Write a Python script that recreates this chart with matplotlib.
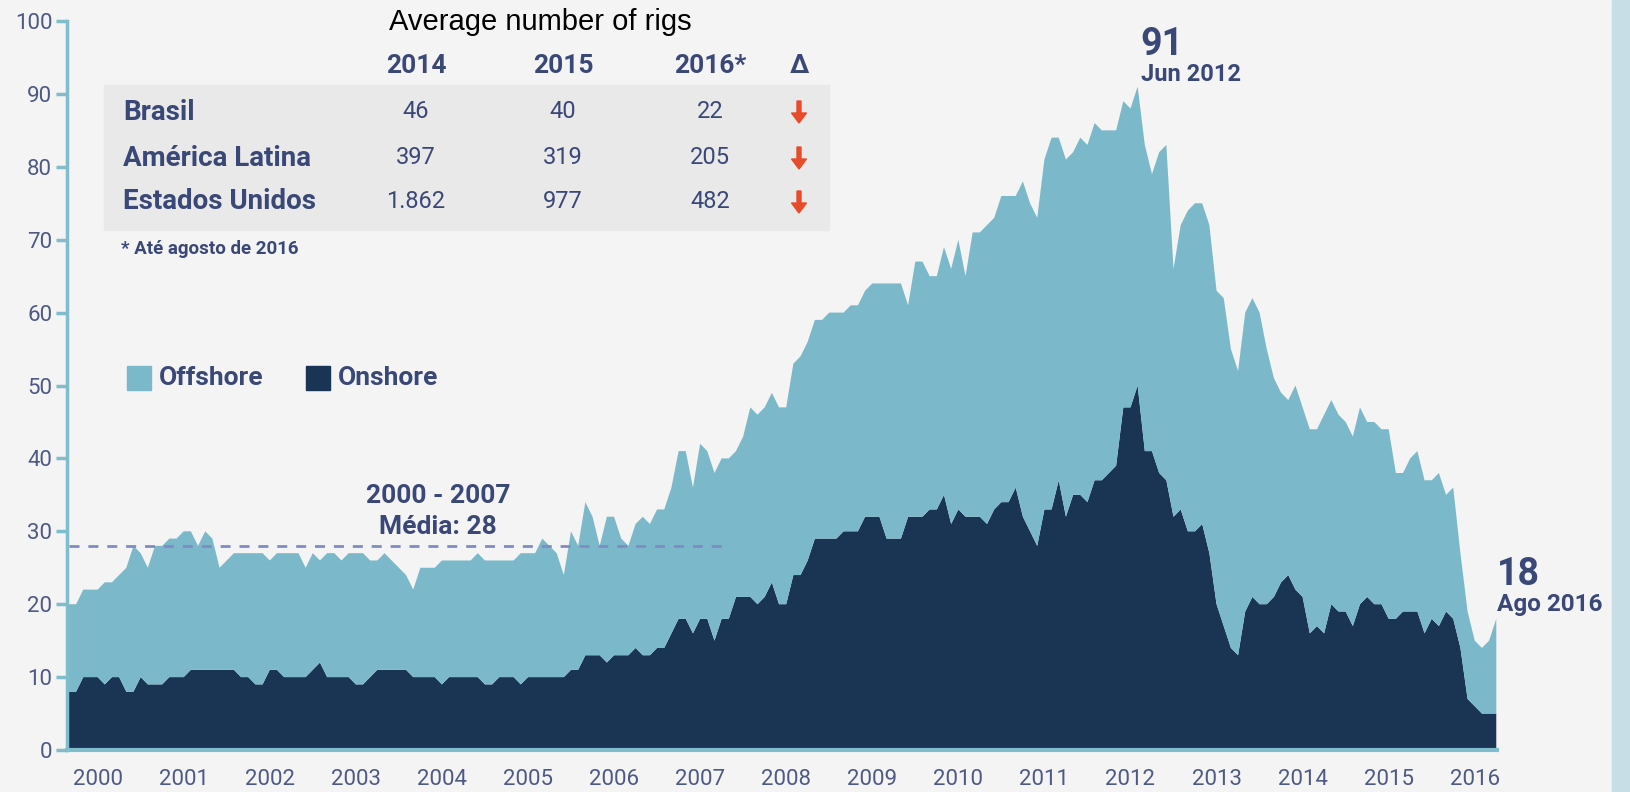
import numpy as np
import matplotlib
matplotlib.use("Agg")
import matplotlib.pyplot as plt
from matplotlib.patches import Rectangle, FancyArrow
from matplotlib.transforms import IdentityTransform

# monthly rig count in Brazil, Jan 2000 - Aug 2016
total = [20, 20, 22, 22, 22, 23, 23, 24, 25, 28, 27, 25, 28, 28, 29, 29, 30, 30, 28, 30,
         29, 25, 26, 27, 27, 27, 27, 27, 26, 27, 27, 27, 27, 25, 27, 26, 27, 27, 26, 27,
         27, 27, 26, 26, 27, 26, 25, 24, 22, 25, 25, 25, 26, 26, 26, 26, 26, 27, 26, 26,
         26, 26, 26, 27, 27, 27, 29, 28, 27, 24, 30, 28, 34, 32, 28, 32, 32, 29, 28, 31,
         32, 31, 33, 33, 36, 41, 41, 36, 42, 41, 38, 40, 40, 41, 43, 47, 46, 47, 49, 47,
         47, 53, 54, 56, 59, 59, 60, 60, 60, 61, 61, 63, 64, 64, 64, 64, 64, 61, 67, 67,
         65, 65, 69, 66, 70, 65, 71, 71, 72, 73, 76, 76, 76, 78, 75, 73, 81, 84, 84, 81,
         82, 84, 83, 86, 85, 85, 85, 89, 88, 91, 83, 79, 82, 83, 66, 72, 74, 75, 75, 72,
         63, 62, 55, 52, 60, 62, 60, 55, 51, 49, 48, 50, 47, 44, 44, 46, 48, 46, 45, 43,
         47, 45, 45, 44, 44, 38, 38, 40, 41, 37, 37, 38, 35, 36, 27, 19, 15, 14, 15, 18]
onshore = [8, 8, 10, 10, 10, 9, 10, 10, 8, 8, 10, 9, 9, 9, 10, 10, 10, 11, 11, 11,
           11, 11, 11, 11, 10, 10, 9, 9, 11, 11, 10, 10, 10, 10, 11, 12, 10, 10, 10, 10,
           9, 9, 10, 11, 11, 11, 11, 11, 10, 10, 10, 10, 9, 10, 10, 10, 10, 10, 9, 9,
           10, 10, 10, 9, 10, 10, 10, 10, 10, 10, 11, 11, 13, 13, 13, 12, 13, 13, 13, 14,
           13, 13, 14, 14, 16, 18, 18, 16, 18, 18, 15, 18, 18, 21, 21, 21, 20, 21, 23, 20,
           20, 24, 24, 26, 29, 29, 29, 29, 30, 30, 30, 32, 32, 32, 29, 29, 29, 32, 32, 32,
           33, 33, 35, 31, 33, 32, 32, 32, 31, 33, 34, 34, 36, 32, 30, 28, 33, 33, 37, 32,
           35, 35, 34, 37, 37, 38, 39, 47, 47, 50, 41, 41, 38, 37, 32, 33, 30, 30, 31, 27,
           20, 17, 14, 13, 19, 21, 20, 20, 21, 23, 24, 22, 21, 16, 17, 16, 20, 19, 19, 17,
           20, 21, 20, 20, 18, 18, 19, 19, 19, 16, 18, 17, 19, 18, 14, 7, 6, 5, 5, 5]
years = list(range(2000, 2017))
avg_2000_2007 = 28
peak_label = "Jun 2012"
last_label = "Ago 2016"

table_title = "Average number of rigs"
table_cols = ["2014", "2015", "2016*"]
table_rows = ["Brasil", "América Latina", "Estados Unidos"]
table_vals = [["46", "40", "22"],
              ["397", "319", "205"],
              ["1.862", "977", "482"]]

W, H = 1631, 792
BG = "#f4f4f4"
LIGHT = "#7bb9ca"
DARK = "#1a3454"
NAVY = "#3a4877"
AXC = "#7fbccc"
RED = "#e84b2c"

plt.rcParams['font.family'] = ['Roboto', 'DejaVu Sans']

months = np.arange(len(total))
onshore = np.array(onshore)
offshore = np.array(total) - onshore


def fx(x):
    return x / W


def fy(y):
    return 1 - y / H


fig = plt.figure(figsize=(W / 100, H / 100), dpi=100, facecolor=BG)
fig.add_artist(Rectangle((fx(1612), 0), fx(W - 1612), 1, transform=fig.transFigure,
                         color="#c8dee6", zorder=0))

ax = fig.add_axes([fx(67.5), 42 / H, (1497 - 67.5) / W, 729 / H])
ax.set_facecolor(BG)
ax.stackplot(months, onshore, offshore, colors=[DARK, LIGHT], linewidth=0)
ax.set_xlim(-0.2, len(total) - 0.9)
ax.set_ylim(0, 100)

for s in ["top", "right"]:
    ax.spines[s].set_visible(False)
ax.spines["left"].set_color(AXC)
ax.spines["left"].set_linewidth(2.5)
ax.spines["bottom"].set_color(AXC)
ax.spines["bottom"].set_linewidth(3)
ax.spines["bottom"].set_zorder(5)

ax.set_yticks(range(0, 101, 10))
ax.tick_params(axis="y", length=8, width=2.5, color=AXC, labelsize=16,
               labelcolor="#4d5a85", pad=3)
ax.set_xticks([12 * k + 4 for k in range(len(years))])
ax.set_xticklabels([str(y) for y in years])
ax.tick_params(axis="x", length=0, labelsize=16, labelcolor="#4d5a85", pad=14)

# average line 2000-2007
ax.hlines(avg_2000_2007, 0, 91.5, colors="#7f8cc4", linewidth=2,
          linestyles=(0, (3.6, 3.2)), zorder=4)
ax.text(51.5, avg_2000_2007 + 6.8, "2000 - 2007", ha="center", va="center",
        fontsize=19, fontweight="bold", color=NAVY)
ax.text(51.5, avg_2000_2007 + 2.6, "Média: %d" % avg_2000_2007, ha="center",
        va="center", fontsize=19, fontweight="bold", color=NAVY)

# peak and last value labels
ip = int(np.argmax(total))
ax.annotate(str(total[ip]), (ip, total[ip]), xytext=(3, 42), textcoords="offset pixels",
            ha="left", va="center", fontsize=27, fontweight="bold", color=NAVY,
            annotation_clip=False)
ax.annotate(peak_label, (ip, total[ip]), xytext=(3, 12), textcoords="offset pixels",
            ha="left", va="center", fontsize=17, fontweight="bold", color=NAVY,
            annotation_clip=False)
il = len(total) - 1
ax.annotate(str(total[il]), (il, total[il]), xytext=(1, 44), textcoords="offset pixels",
            ha="left", va="center", fontsize=27, fontweight="bold", color=NAVY,
            annotation_clip=False)
ax.annotate(last_label, (il, total[il]), xytext=(1, 14), textcoords="offset pixels",
            ha="left", va="center", fontsize=17.5, fontweight="bold", color=NAVY,
            annotation_clip=False)

# legend
fig.add_artist(Rectangle((fx(127), fy(390)), fx(24), 24 / H, transform=fig.transFigure,
                         color=LIGHT))
fig.text(fx(159), fy(378), "Offshore", ha="left", va="center", fontsize=19,
         fontweight="bold", color=NAVY)
fig.add_artist(Rectangle((fx(306), fy(390)), fx(24), 24 / H, transform=fig.transFigure,
                         color=DARK))
fig.text(fx(338), fy(378), "Onshore", ha="left", va="center", fontsize=19,
         fontweight="bold", color=NAVY)

# table
fig.add_artist(Rectangle((fx(104), fy(230)), fx(829 - 104), 145 / H,
                         transform=fig.transFigure, color="#e9e9e9", zorder=0.5))
fig.text(fx(540), fy(22), table_title, ha="center", va="center", fontsize=21,
         color="black", family=["Liberation Sans", "DejaVu Sans"])
col_x = [416, 563, 710]
for cx, c in zip(col_x, table_cols):
    fig.text(fx(cx), fy(66), c, ha="center", va="center", fontsize=19,
             fontweight="bold", color=NAVY)
fig.text(fx(799), fy(66), "Δ", ha="center", va="center", fontsize=19,
         fontweight="bold", color=NAVY)
row_y = [112, 158, 202]
for ry, r, vals in zip(row_y, table_rows, table_vals):
    fig.text(fx(123), fy(ry), r, ha="left", va="center", fontsize=20,
             fontweight="bold", color=NAVY)
    for cx, v in zip(col_x, vals):
        fig.text(fx(cx), fy(ry), v, ha="center", va="center", fontsize=17, color=NAVY)
    fig.add_artist(FancyArrow(799, H - ry + 11, 0, -22, width=4, head_width=15,
                              head_length=10, length_includes_head=True,
                              color=RED, transform=IdentityTransform()))
fig.text(fx(121), fy(249), "* Até agosto de 2016", ha="left", va="center",
         fontsize=13.5, fontweight="bold", color=NAVY)

fig.savefig("out.png", dpi=100, facecolor=BG)
